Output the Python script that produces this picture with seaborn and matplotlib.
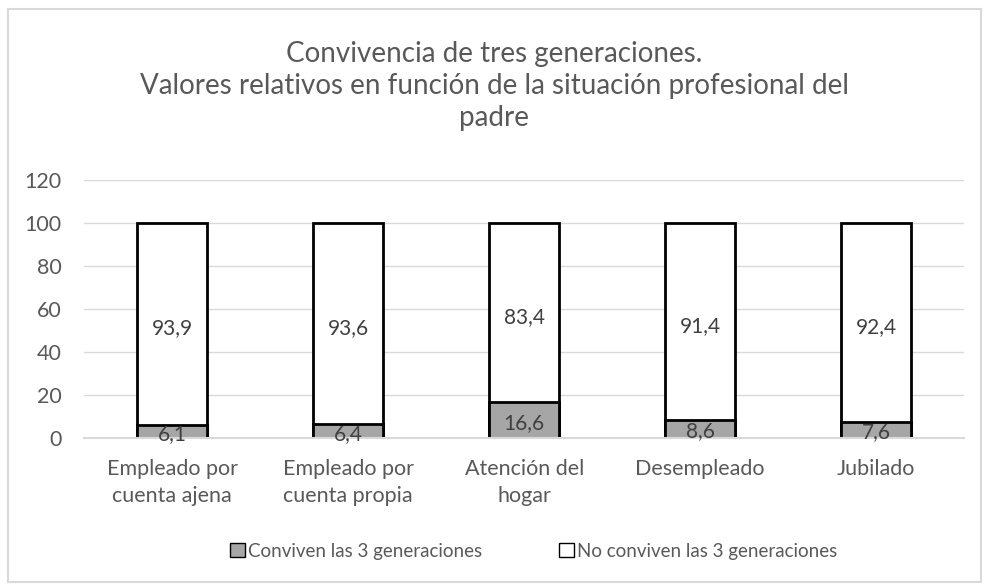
import matplotlib
matplotlib.use("Agg")
import matplotlib.pyplot as plt
import seaborn as sns
import pandas as pd
from matplotlib.patches import Patch, Rectangle

categorias = ["Empleado por\ncuenta ajena", "Empleado por\ncuenta propia",
              "Atención del\nhogar", "Desempleado", "Jubilado"]
conviven = [6.1, 6.4, 16.6, 8.6, 7.6]
no_conviven = [93.9, 93.6, 83.4, 91.4, 92.4]
yticks = [0, 20, 40, 60, 80, 100, 120]

sns.set_theme(style="white")
plt.rcParams['font.family'] = ['Lato', 'DejaVu Sans']
txt = "#595959"

df = pd.DataFrame({"cat": categorias, "conviven": conviven, "no": no_conviven})
df["total"] = df["conviven"] + df["no"]

fig = plt.figure(figsize=(9.88, 5.85), dpi=100)
ax = fig.add_axes([0.085, 0.251, 0.891, 0.441])

# stacked bars: white total first, grey part drawn over it
sns.barplot(data=df, x="cat", y="total", color="white", edgecolor="black",
            linewidth=2, width=0.4, saturation=1, ax=ax)
sns.barplot(data=df, x="cat", y="conviven", color="#a6a6a6", edgecolor="black",
            linewidth=2, width=0.4, saturation=1, ax=ax)

for i, (a, b) in enumerate(zip(conviven, no_conviven)):
    ax.text(i, a / 2 - 1.2, f"{a:.1f}".replace(".", ","), ha="center", va="center",
            fontsize=15, color="#404040")
    ax.text(i, a + b / 2 - 2.0, f"{b:.1f}".replace(".", ","), ha="center", va="center",
            fontsize=15, color="#404040")

ax.set_ylim(0, 120)
ax.set_yticks(yticks)
ax.set_xlim(-0.5, 4.5)
ax.yaxis.grid(True, color="#d9d9d9", linewidth=1)
ax.set_axisbelow(True)
for s in ["top", "right", "left"]:
    ax.spines[s].set_visible(False)
ax.spines["bottom"].set_color("#d9d9d9")
ax.spines["bottom"].set_linewidth(1.5)
ax.tick_params(axis="both", length=0, labelsize=15.5, colors=txt)
ax.tick_params(axis="x", pad=15)
ax.tick_params(axis="y", pad=16)
for lbl in ax.get_xticklabels():
    lbl.set_linespacing(1.45)
ax.set_xlabel("")
ax.set_ylabel("")

fig.text(0.5, 0.853, "Convivencia de tres generaciones.\nValores relativos en función de la situación profesional del\npadre",
         ha="center", va="center", fontsize=20, color=txt, linespacing=1.3)

handles = [Patch(facecolor="#a6a6a6", edgecolor="black", label="Conviven las 3 generaciones"),
           Patch(facecolor="white", edgecolor="black", label="No conviven las 3 generaciones")]
leg = fig.legend(handles=handles, loc="center", bbox_to_anchor=(0.54, 0.058), ncol=2,
                 frameon=False, fontsize=13.5, handlelength=0.8, handleheight=0.8,
                 handletextpad=0.15, columnspacing=4.1)
for t in leg.get_texts():
    t.set_color(txt)

fig.patches.append(Rectangle((0.008, 0.005), 0.985, 0.98, transform=fig.transFigure,
                             fill=False, edgecolor="#d9d9d9", linewidth=1.5))

fig.savefig("out.png", dpi=100)
